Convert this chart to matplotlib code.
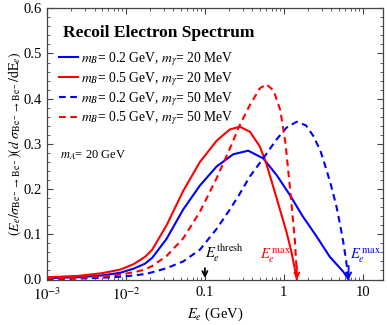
import numpy as np
import matplotlib
matplotlib.use("Agg")
import matplotlib.pyplot as plt
from matplotlib.ticker import FixedLocator, LogLocator, NullFormatter, MultipleLocator

plt.rcParams['font.family'] = ['Liberation Serif', 'DejaVu Serif']
plt.rcParams['mathtext.fontset'] = 'stix'

# ---------- DATA ----------

# m_B = 0.2 GeV, m_gamma = 20 MeV (blue solid)
x_b20 = [0.001, 0.0025, 0.005, 0.0085, 0.0125, 0.0174, 0.0215, 0.0327, 0.0531, 0.0865, 0.1406,
         0.228, 0.353, 0.547, 0.809, 1.19, 1.7, 2.6, 3.82, 5.6, 6.6]
y_b20 = [0.003, 0.005, 0.009, 0.015, 0.024, 0.035, 0.048, 0.09, 0.155, 0.208, 0.25,
         0.277, 0.285, 0.268, 0.231, 0.187, 0.142, 0.095, 0.05, 0.018, 0.0]

# m_B = 0.5 GeV, m_gamma = 20 MeV (red solid)
x_r20 = [0.001, 0.0025, 0.005, 0.0085, 0.0125, 0.0174, 0.0215, 0.0327, 0.0531, 0.0865, 0.1406,
         0.207, 0.277, 0.371, 0.497, 0.603, 0.809, 1.08, 1.25, 1.46]
y_r20 = [0.005, 0.008, 0.014, 0.022, 0.034, 0.05, 0.066, 0.12, 0.196, 0.26, 0.307,
         0.332, 0.338, 0.327, 0.294, 0.255, 0.18, 0.105, 0.06, 0.0]

# m_B = 0.2 GeV, m_gamma = 50 MeV (blue dashed)
x_b50 = [0.001, 0.0025, 0.005, 0.0085, 0.0125, 0.0174, 0.0215, 0.0327, 0.0531, 0.0865, 0.1406,
         0.207, 0.277, 0.371, 0.547, 0.809, 1.08, 1.45, 1.9, 2.35, 2.9, 3.47, 4.0, 4.64, 5.1,
         5.6, 6.1, 6.6]
y_b50 = [0.001, 0.002, 0.004, 0.006, 0.009, 0.012, 0.016, 0.025, 0.04, 0.066, 0.112,
         0.155, 0.19, 0.228, 0.268, 0.31, 0.336, 0.349, 0.341, 0.318, 0.285, 0.242, 0.205, 0.161, 0.125,
         0.087, 0.045, 0.0]

# m_B = 0.5 GeV, m_gamma = 50 MeV (red dashed)
x_r50 = [0.001, 0.0025, 0.005, 0.0085, 0.0125, 0.0174, 0.0215, 0.0327, 0.0531, 0.0865, 0.1406,
         0.207, 0.277, 0.371, 0.497, 0.6, 0.74, 0.9, 1.05, 1.19, 1.38, 1.47]
y_r50 = [0.002, 0.004, 0.007, 0.011, 0.016, 0.022, 0.03, 0.052, 0.091, 0.15, 0.224,
         0.29, 0.342, 0.386, 0.423, 0.432, 0.418, 0.375, 0.3, 0.205, 0.085, 0.0]

e_thresh = 0.1
e_max_red = 1.46
e_max_blue = 6.6

legend_labels = [r"$m_B$= 0.2 GeV, $m_\gamma$= 20 MeV",
                 r"$m_B$= 0.5 GeV, $m_\gamma$= 20 MeV",
                 r"$m_B$= 0.2 GeV, $m_\gamma$= 50 MeV",
                 r"$m_B$= 0.5 GeV, $m_\gamma$= 50 MeV"]

x_ticks = [1e-3, 1e-2, 0.1, 1, 10]
x_tick_labels = [r"$10^{-3}$", r"$10^{-2}$", "0.1", "1", "10"]
y_ticks = [0.0, 0.1, 0.2, 0.3, 0.4, 0.5, 0.6]

# ---------- PLOT ----------

fig = plt.figure(figsize=(3.87, 3.25), dpi=100)
ax = fig.add_axes([0.1214, 0.14, 0.8683, 0.8345])

blue = (0, 0, 1)
red = (1, 0, 0)
dash = (0, (3.2, 2.2))
lw = 1.5

ax.plot(x_b20, y_b20, color=blue, lw=lw, label=legend_labels[0])
ax.plot(x_r20, y_r20, color=red, lw=lw, label=legend_labels[1])
ax.plot(x_b50, y_b50, color=blue, lw=lw, ls=dash, label=legend_labels[2])
ax.plot(x_r50, y_r50, color=red, lw=lw, ls=dash, label=legend_labels[3])

# arrows marking threshold and endpoint energies
arr = dict(arrowstyle='->', lw=1.3, shrinkA=0, shrinkB=0, mutation_scale=9)
ax.annotate('', xy=(e_thresh, 0.003), xytext=(e_thresh, 0.025), arrowprops=dict(arr, color='black'))
ax.annotate('', xy=(e_max_red, 0.0), xytext=(e_max_red, 0.03), arrowprops=dict(arr, color=red))
ax.annotate('', xy=(e_max_blue, 0.0), xytext=(e_max_blue, 0.03), arrowprops=dict(arr, color=blue))

lab = dict(fontsize=10.5, va='baseline')
ax.text(e_thresh, 0.047, r"$E_e^{\,\mathrm{thresh}}$", color='black', **lab)
ax.text(0.497, 0.047, r"$E_e^{\,\mathrm{max}}$", color=red, **lab)
ax.text(6.84, 0.047, r"$E_e^{\,\mathrm{max}}$", color=blue, **lab)

ax.text(0.047, 0.893, "Recoil Electron Spectrum", transform=ax.transAxes,
        fontsize=12.5, fontweight='bold', va='baseline')
ax.text(0.038, 0.46, r"$m_A$= 20 GeV", transform=ax.transAxes, fontsize=9, va='center')

ax.legend(loc='upper left', bbox_to_anchor=(0.035, 0.845), frameon=False, fontsize=9.8,
          handlelength=1.4, handletextpad=0.2, labelspacing=0.15, borderpad=0, borderaxespad=0)

ax.set_xscale('log')
ax.set_xlim(1e-3, 18)
ax.set_ylim(0, 0.6)
ax.xaxis.set_major_locator(FixedLocator(x_ticks))
ax.set_xticklabels(x_tick_labels)
ax.xaxis.set_minor_locator(LogLocator(base=10, subs=np.arange(2, 10)))
ax.xaxis.set_minor_formatter(NullFormatter())
ax.set_yticks(y_ticks)
ax.set_yticklabels([f"{v:.1f}" for v in y_ticks])
ax.yaxis.set_minor_locator(MultipleLocator(0.02))

ax.tick_params(which='both', direction='in', top=True, right=True, labelsize=10.5, color='#444444')
ax.tick_params(which='major', length=4, width=0.8)
ax.tick_params(which='minor', length=2, width=0.6)
ax.tick_params(axis='x', pad=5)
for s in ax.spines.values():
    s.set_color('#444444')
    s.set_linewidth(0.9)

ax.set_xlabel(r"$E_e$ (GeV)", fontsize=10.5, labelpad=2)
ax.set_ylabel(r"$(E_e/\sigma_{\mathrm{Be}^-\rightarrow\,\mathrm{Be}^-})(d\ \sigma_{\mathrm{Be}^-\rightarrow\,\mathrm{Be}^-}/\mathrm{dE}_e)$",
              fontsize=10, labelpad=0)

fig.savefig("out.png", dpi=100)
